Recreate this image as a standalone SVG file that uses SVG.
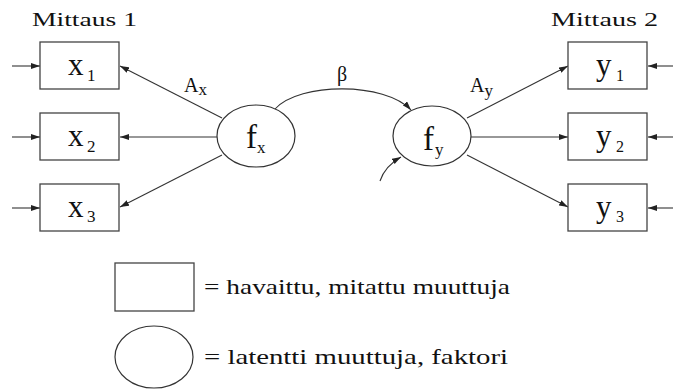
<svg xmlns="http://www.w3.org/2000/svg" width="673" height="390" viewBox="0 0 673 390">
<defs>
<style>
.box{fill:#fff;stroke:#444;stroke-width:1.3}
.ell{fill:#fff;stroke:#333;stroke-width:1.2}
.con{fill:none;stroke:#333;stroke-width:1.1}
</style>
<marker id="ah" markerWidth="9" markerHeight="6" refX="9" refY="3" orient="auto" markerUnits="userSpaceOnUse">
<path d="M0,0 L9,3 L0,6 z" fill="#222"/>
</marker>
</defs>
<g font-family="Liberation Serif, serif" fill="#111">
<text font-size="19" x="32" y="26" textLength="105" lengthAdjust="spacingAndGlyphs">Mittaus 1</text>
<text font-size="19" x="551" y="26" textLength="107" lengthAdjust="spacingAndGlyphs">Mittaus 2</text>
<g id="connectors" class="con" marker-end="url(#ah)">
<path class="con" d="M12,66 H40"/>
<path class="con" d="M12,137 H40"/>
<path class="con" d="M12,208 H40"/>
<path class="con" d="M673,66 H648"/>
<path class="con" d="M673,137 H648"/>
<path class="con" d="M673,208 H648"/>
<path class="con" d="M222,118 L120,66"/>
<path class="con" d="M217,137 L120,137"/>
<path class="con" d="M222,155 L120,207"/>
<path class="con" d="M467,118 L568,66"/>
<path class="con" d="M471,137 L568,137"/>
<path class="con" d="M467,155 L568,207"/>
<path class="con" d="M275,109 C300,82 385,82 411,110"/>
<path class="con" d="M380,181 Q385,166 401,157"/>
</g>
<g id="labels">
<text font-size="20" x="184" y="92">A<tspan font-size="17" dy="3">x</tspan></text>
<text font-size="20" x="470" y="92">A<tspan font-size="17" dy="4">y</tspan></text>
<text font-size="20" x="342" y="81" text-anchor="middle">β</text>
</g>
<g id="x1"><rect class="box" x="40" y="42" width="79" height="47"/><text font-size="31" x="68" y="75">x</text><text font-size="17" x="87" y="81">1</text></g>
<g id="x2"><rect class="box" x="40" y="113" width="79" height="47"/><text font-size="31" x="68" y="146">x</text><text font-size="17" x="87" y="152">2</text></g>
<g id="x3"><rect class="box" x="40" y="184" width="79" height="47"/><text font-size="31" x="68" y="217">x</text><text font-size="17" x="87" y="222">3</text></g>
<g id="y1"><rect class="box" x="568" y="42" width="79" height="47"/><text font-size="31" x="596" y="75">y</text><text font-size="16" x="616" y="81">1</text></g>
<g id="y2"><rect class="box" x="568" y="113" width="79" height="47"/><text font-size="31" x="596" y="146">y</text><text font-size="16" x="616" y="152">2</text></g>
<g id="y3"><rect class="box" x="568" y="184" width="79" height="47"/><text font-size="31" x="596" y="217">y</text><text font-size="16" x="616" y="222">3</text></g>
<g id="fx"><ellipse class="ell" cx="256" cy="136" rx="39" ry="31"/><text font-size="33" x="246" y="148">f</text><text font-size="17" x="257" y="153">x</text></g>
<g id="fy"><ellipse class="ell" cx="432" cy="136" rx="39" ry="30"/><text font-size="33" x="423" y="150">f</text><text font-size="17" x="435" y="155">y</text></g>
<g id="legend-box"><rect class="box" x="115" y="263" width="79" height="48"/><text font-size="21" x="204" y="294" textLength="306" lengthAdjust="spacingAndGlyphs">= havaittu, mitattu muuttuja</text></g>
<g id="legend-ellipse"><ellipse class="ell" cx="154" cy="357" rx="39" ry="31"/><text font-size="21" x="204" y="364" textLength="304" lengthAdjust="spacingAndGlyphs">= latentti muuttuja, faktori</text></g>
</g>
</svg>
